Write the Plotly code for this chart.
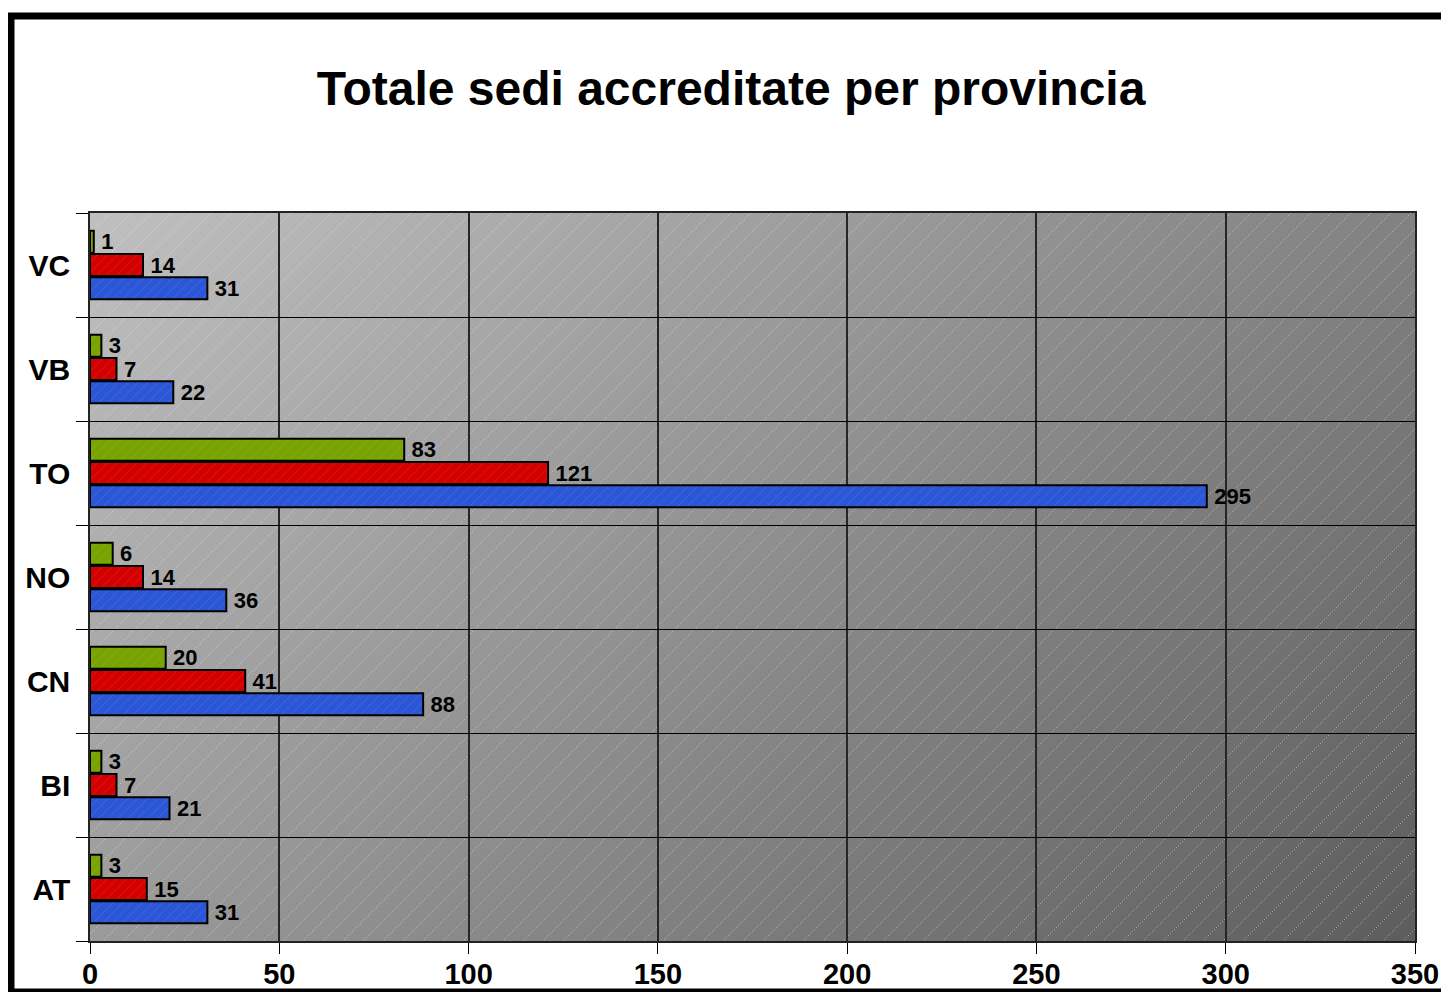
import base64
import struct
import zlib

import numpy as np
import plotly.graph_objects as go

# ---------------- data ----------------
provinces = ["AT", "BI", "CN", "NO", "TO", "VB", "VC"]
series_blue = [31, 21, 88, 36, 295, 22, 31]
series_red = [15, 7, 41, 14, 121, 7, 14]
series_green = [3, 3, 20, 6, 83, 3, 1]
title_text = "Totale sedi accreditate per provincia"
x_ticks = [0, 50, 100, 150, 200, 250, 300, 350]


# ---------------- background image (gradient + hatch) ----------------
def make_png(width, height):
    xs = np.arange(width)[None, :]
    ys = np.arange(height)[:, None]
    u = xs / (width - 1)
    v = ys / (height - 1)
    base = 192.0 - 62.0 * u - 37.0 * v
    hatch = ((xs + ys) % 20 == 0) & (ys % 2 == 0)
    img = np.where(hatch, base + (255 - base) * 0.35, base)
    img = np.clip(img, 0, 255).astype(np.uint8)
    raw = b"".join(b"\x00" + img[r].tobytes() for r in range(height))

    def chunk(tag, data):
        c = struct.pack(">I", len(data)) + tag + data
        return c + struct.pack(">I", zlib.crc32(tag + data) & 0xFFFFFFFF)

    png = b"\x89PNG\r\n\x1a\n"
    png += chunk(b"IHDR", struct.pack(">IIBBBBB", width, height, 8, 0, 0, 0, 0))
    png += chunk(b"IDAT", zlib.compress(raw, 9))
    png += chunk(b"IEND", b"")
    return "data:image/png;base64," + base64.b64encode(png).decode()


bg_src = make_png(1325, 728)

FONT = "Arial, 'Liberation Sans', sans-serif"

# page body has an 8px margin: figure is sized/offset to compensate
OFF = 8
W, H = 1449 - OFF, 992 - OFF
L, T = 90 - OFF, 213 - OFF
PW, PH = 1325, 728
R = W - L - PW
B = H - T - PH

fig = go.Figure()

traces = [
    (series_blue, "#2b56d6"),
    (series_red, "#d40000"),
    (series_green, "#78a300"),
]
for vals, col in traces:
    fig.add_trace(
        go.Bar(
            y=provinces,
            x=vals,
            orientation="h",
            marker=dict(
                color=col,
                line=dict(color="black", width=2),
                pattern=dict(shape="/", fgcolor="white", fgopacity=0.13, size=7, solidity=0.12),
            ),
            text=vals,
            texttemplate="\u2009%{x}",
            textposition="outside",
            constraintext="none",
            textfont=dict(family=FONT, size=22, color="black", weight="bold"),
            cliponaxis=False,
            showlegend=False,
            hoverinfo="x+y",
        )
    )


def px_x(p):
    return (p - OFF - L) / PW


def px_y(p):
    return (T + PH - (p - OFF)) / PH


fig.update_layout(
    width=W,
    height=H,
    margin=dict(l=L, r=R, t=T, b=B, autoexpand=False),
    paper_bgcolor="white",
    plot_bgcolor="rgba(0,0,0,0)",
    barmode="group",
    bargap=0.33,
    bargroupgap=0.06,
    font=dict(family=FONT, color="black"),
    title=dict(
        text=title_text,
        x=(731 - OFF) / W,
        xanchor="center",
        xref="container",
        y=1 - (88 - OFF) / H,
        yanchor="middle",
        yref="container",
        font=dict(family=FONT, size=48, color="black", weight="bold"),
    ),
    images=[
        dict(
            source=bg_src,
            xref="paper",
            yref="paper",
            x=0,
            y=1,
            sizex=1,
            sizey=1,
            xanchor="left",
            yanchor="top",
            sizing="stretch",
            layer="below",
        )
    ],
    shapes=[
        dict(
            type="rect",
            xref="paper",
            yref="paper",
            x0=px_x(11),
            x1=px_x(1462),
            y0=px_y(992),
            y1=px_y(16),
            line=dict(color="black", width=7),
            fillcolor="rgba(0,0,0,0)",
            layer="below",
        )
    ],
)

fig.update_xaxes(
    automargin=False,
    range=[0, 350],
    tickvals=x_ticks,
    ticks="outside",
    ticklen=11,
    tickcolor="black",
    tickwidth=1,
    tickfont=dict(family=FONT, size=29, color="black", weight="bold"),
    ticklabelstandoff=-5,
    showgrid=True,
    gridcolor="#262626",
    gridwidth=1.5,
    zeroline=False,
    showline=True,
    linecolor="#222",
    linewidth=1.5,
    mirror=True,
)

fig.update_yaxes(
    automargin=False,
    categoryorder="array",
    categoryarray=provinces,
    tickson="boundaries",
    ticks="outside",
    ticklen=12,
    tickcolor="black",
    tickwidth=1,
    tickfont=dict(family=FONT, size=30, color="black", weight="bold"),
    ticklabelstandoff=12,
    showgrid=True,
    gridcolor="black",
    gridwidth=1,
    showline=True,
    linecolor="#222",
    linewidth=1.5,
    mirror=True,
)

fig.write_html("out.html")
